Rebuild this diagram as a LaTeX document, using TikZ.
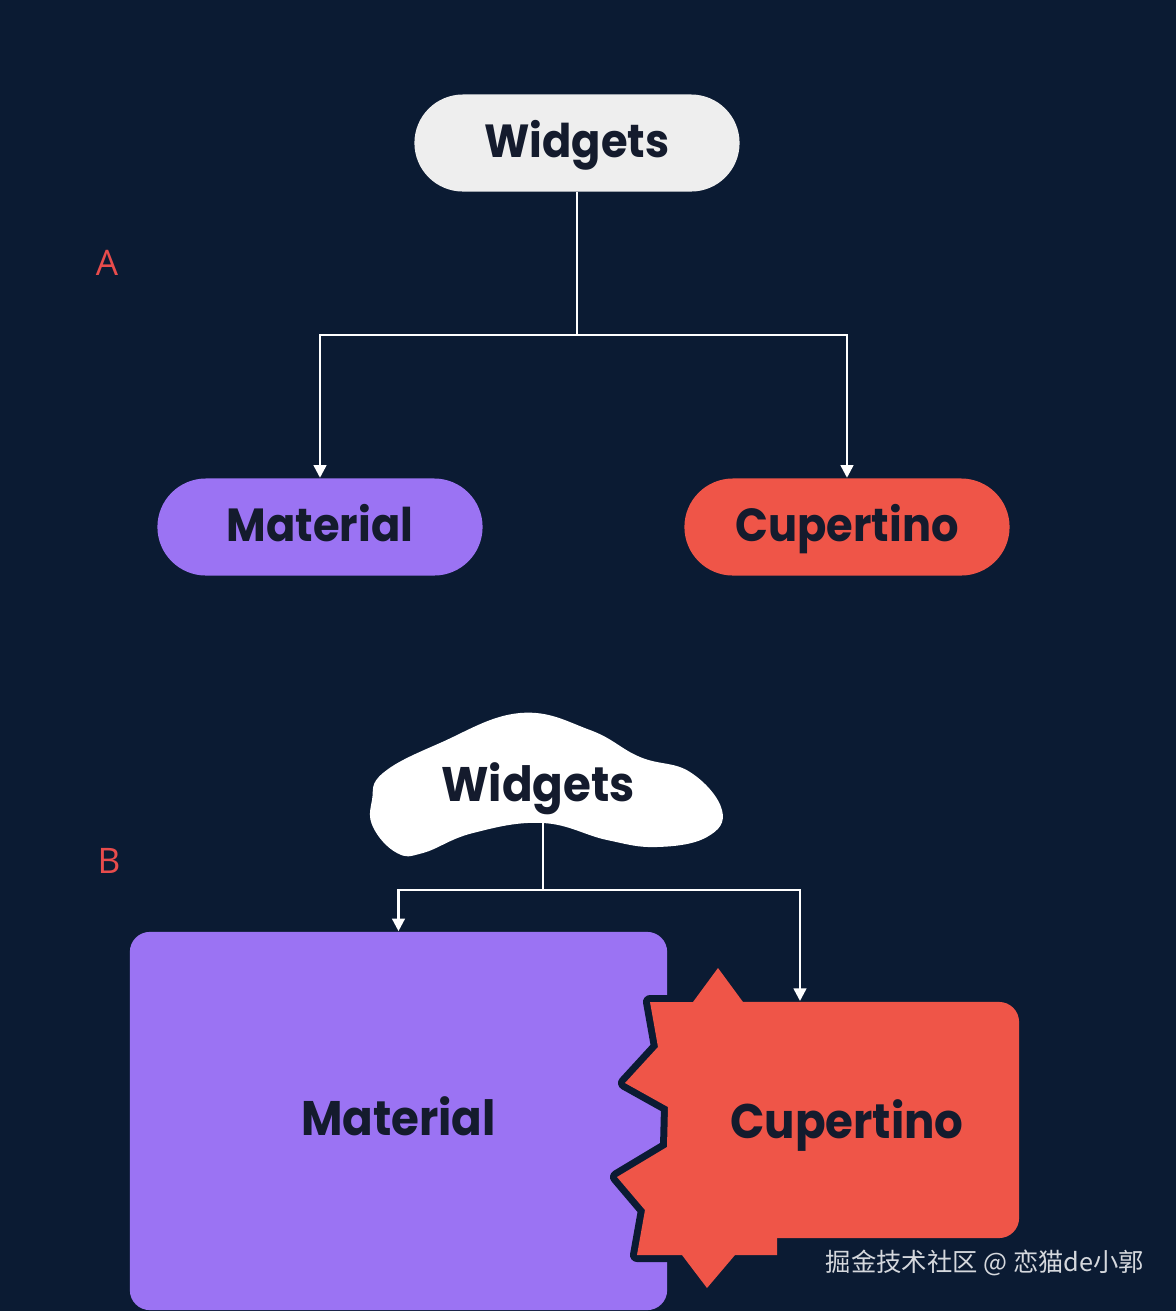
\documentclass[tikz,border=0pt]{standalone}
\usepackage{fontspec}
\setmainfont{Poppins}[FakeStretch=0.93]
\newfontfamily\tagfont{Open Sans}
\newfontfamily\cjk{Noto Sans CJK SC}
\usetikzlibrary{arrows.meta}
\definecolor{navy}{HTML}{0B1B33}
\definecolor{ink}{HTML}{141B2D}
\definecolor{lilac}{HTML}{9B73F3}
\definecolor{coral}{HTML}{EF5548}
\definecolor{paper}{HTML}{EEEEEE}
\definecolor{tagred}{HTML}{E84C4C}
\definecolor{mark}{HTML}{D5D8DD}

\begin{document}
\begin{tikzpicture}[x=0.01cm, y=-0.01cm,
    pill/.style={rounded corners=0.485cm, minimum width=3.25cm, minimum height=0.97cm,
      text=ink, text height=1.02em, text depth=0.22em,
      font=\fontsize{13.2}{16}\selectfont\bfseries},
    word/.style={text=ink, text height=1.02em, text depth=0.22em,
      font=\fontsize{13.8}{16}\selectfont\bfseries},
    wire/.style={white, line width=0.7pt},
    link/.style={wire, -{Triangle[width=3.6pt,length=3.6pt]}},
    tagtext/.style={text=tagred, font=\fontsize{10}{12}\selectfont\tagfont}]
    % Background
    \fill[navy] (0,0) rectangle (1176,1311);
    \useasboundingbox (0,0) rectangle (1176,1311);
    % Part A
    \node[tagtext] (ta) at (107,263) {A};
    \node[pill, fill=paper] (w1) at (577,143) {Widgets};
    \node[pill, fill=lilac] (m1) at (320,527) {Material};
    \node[pill, fill=coral] (c1) at (847,527) {Cupertino};
    \coordinate (j1) at (577,335);
    \draw[wire] (w1) -- (j1);
    \draw[link] (j1) -| (m1);
    \draw[link] (j1) -| (c1);
    % Part B
    \node[tagtext] (tb) at (109,861) {B};
    \fill[white] plot[smooth cycle, tension=0.7] coordinates {(520,713) (590,730)
      (640,757) (690,772) (722,810) (707,837) (657,847) (607,840) (543,823)
      (473,833) (423,853) (397,853) (373,827) (372,800) (383,773) (440,743)};
    \node[word] (w2) at (538,787) {Widgets};
    \node[word, fill=lilac, rounded corners=0.2cm, minimum width=5.37cm,
      minimum height=3.78cm] (m2) at (398.5,1121) {Material};
    % jagged edge, outlined in the background colour
    \path[fill=coral, preaction={draw=navy, line width=0.14cm, line join=round}]
      (650,1002) -- (693,1002) -- (718,968) -- (743,1002) -- (780,1002)
      -- (777,1255) -- (735,1255) -- (707,1288) -- (682,1255) -- (637,1255)
      -- (645,1210) -- (617,1177) -- (667,1147) -- (668,1107) -- (625,1083)
      -- (658,1047) -- cycle;
    \node[fill=coral, rounded corners=0.2cm, minimum width=3.19cm,
      minimum height=2.36cm] (c2) at (859.5,1120) {};
    \node[word] (c2t) at (847,1124) {Cupertino};
    \coordinate (j2) at (543,890);
    \coordinate (c2n) at (800,1001);
    \draw[wire] (w2.south -| j2) -- (j2);
    \draw[link] (j2) -| (m2);
    \draw[link] (j2) -| (c2n);
    % Watermark
    \node[text=mark, font=\fontsize{7.2}{9}\selectfont\cjk] (wm) at (985,1263)
      {掘金技术社区 @ 恋猫de小郭};
\end{tikzpicture}
\end{document}
